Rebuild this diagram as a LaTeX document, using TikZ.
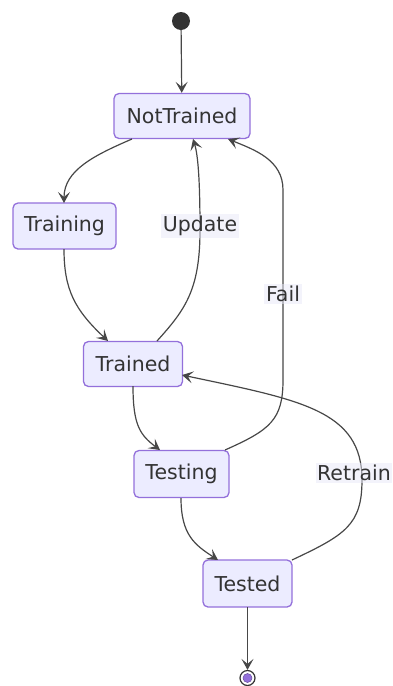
\documentclass[tikz,border=0pt]{standalone}
\usepackage{fontspec}
\setmainfont{DejaVu Sans}
\usetikzlibrary{arrows.meta}
\definecolor{stfill}{HTML}{ECECFF}
\definecolor{stline}{HTML}{9370DB}
\definecolor{txt}{HTML}{333333}
\definecolor{lblbg}{HTML}{E8E8F8}
\tikzset{
  state/.style={draw=stline, fill=stfill, line width=1.3pt, rounded corners=5pt, text=txt,
    font=\fontsize{20.5}{23}\selectfont, inner sep=0pt},
  edge/.style={draw=txt!90, line width=1.2pt, -{Stealth[length=11pt,width=12pt,inset=5pt]}},
  lbl/.style={fill=lblbg, fill opacity=0.5, text opacity=1, text=txt, font=\fontsize{20.5}{23}\selectfont, inner sep=2pt}
}
\begin{document}
\begin{tikzpicture}[x=1pt,y=-1pt]
\useasboundingbox (0,0) rectangle (392,686);
% start
\node[circle, fill=txt, minimum size=18pt, inner sep=0pt] (start) at (181,21) {};
% states
\node[state, minimum width=136pt, minimum height=45pt] (nt) at (182,116) {NotTrained};
\node[state, minimum width=103pt, minimum height=46pt] (tr) at (64.5,226) {Training};
\node[state, minimum width=99pt, minimum height=45pt] (td) at (133,364) {Trained};
\node[state, minimum width=95pt, minimum height=47pt] (ts) at (181.5,474) {Testing};
\node[state, minimum width=89pt, minimum height=47pt] (te) at (247.5,583.5) {Tested};
% end
\node[circle, draw=txt, line width=1.2pt, fill=white, minimum size=15pt, inner sep=0pt] (end) at (247.5,678) {};
\node[circle, draw=stline!70!black, fill=stline, line width=0.5pt, minimum size=9pt, inner sep=0pt] at (end) {};
% coordinates
\coordinate (ntbl) at (132,139);
\coordinate (ntbu) at (193,139);
\coordinate (ntbf) at (228,139);
\coordinate (trt) at (64,203);
\coordinate (trb) at (64,249);
\coordinate (tdt) at (108,341);
\coordinate (tdtr) at (157,341);
\coordinate (tdb) at (133,386);
\coordinate (tdr) at (182,375);
\coordinate (tst) at (160,450);
\coordinate (tstr) at (225,450);
\coordinate (tsb) at (181,498);
\coordinate (tet) at (218,560);
\coordinate (tetr) at (292,560);
\coordinate (teb) at (247.5,607);
% edges
\draw[edge] (start) -- (nt);
\draw[edge] (ntbl) .. controls (95,155) and (64,170) .. (trt);
\draw[edge] (trb) .. controls (64,290) and (75,310) .. (tdt);
\draw[edge] (tdtr) .. controls (185,310) and (200,290) .. (200,230) .. controls (200,180) and (198,155) .. (ntbu);
\draw[edge] (tstr) .. controls (270,430) and (283,420) .. (283,380) -- (283,190) .. controls (283,160) and (255,150) .. (ntbf);
\draw[edge] (tdb) .. controls (133,425) and (140,435) .. (tst);
\draw[edge] (tsb) .. controls (181,535) and (195,545) .. (tet);
\draw[edge] (tetr) .. controls (345,535) and (362,525) .. (362,480) .. controls (362,410) and (300,400) .. (tdr);
\draw[edge] (teb) -- (end);
% labels
\node[lbl] at (200,226) {Update};
\node[lbl] at (283,294) {Fail};
\node[lbl, anchor=east, inner xsep=1pt] at (392,473) {Retrain};
\end{tikzpicture}
\end{document}
